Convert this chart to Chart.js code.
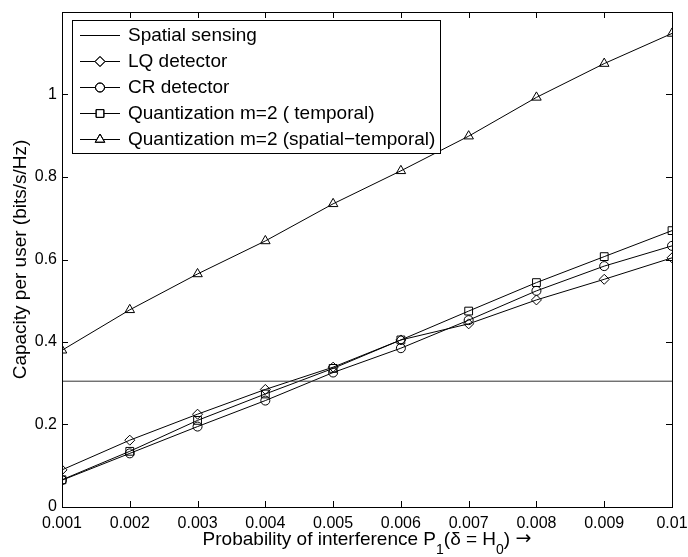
<!DOCTYPE html>
<html>
<head>
<meta charset="utf-8">
<title>Capacity per user</title>
<script src="https://cdn.jsdelivr.net/npm/chart.js@4.4.0/dist/chart.umd.min.js"></script>
<style>
    html, body { margin: 0; padding: 0; background: #fff; }
    #wrap { width: 688px; height: 557px; }
</style>
</head>
<body>
<div id="wrap"><canvas id="myChart" width="688" height="557"></canvas></div>
<script>
// probability of interference on the x axis
let probs = [0.001, 0.002, 0.003, 0.004, 0.005, 0.006, 0.007, 0.008, 0.009, 0.01];

// capacity per user (bits/s/Hz)
let spatialSensing = 0.305;
let lqDetector = [0.09, 0.162, 0.225, 0.285, 0.339, 0.405, 0.444, 0.502, 0.552, 0.604];
let crDetector = [0.065, 0.13, 0.195, 0.258, 0.326, 0.385, 0.453, 0.524, 0.584, 0.633];
let quantTemporal = [0.066, 0.135, 0.21, 0.274, 0.336, 0.405, 0.475, 0.544, 0.607, 0.67];
let quantSpatialTemporal = [0.38, 0.478, 0.565, 0.645, 0.735, 0.815, 0.899, 0.993, 1.075, 1.148];

let yTicks = [0, 0.2, 0.4, 0.6, 0.8, 1];

const FONT = '"Liberation Sans", Arial, Helvetica, sans-serif';

const toPoints = ys => probs.map((p, i) => ({ x: p, y: ys[i] }));

const series = (label, ys, style, radius) => ({
    label: label,
    data: toPoints(ys),
    borderColor: '#000',
    borderWidth: 1,
    backgroundColor: 'rgba(0,0,0,0)',
    pointStyle: style,
    pointRadius: radius,
    pointHoverRadius: radius,
    pointBorderColor: '#000',
    pointBackgroundColor: 'rgba(0,0,0,0)',
    pointBorderWidth: 1,
    tension: 0
});

let data = {
    datasets: [
        {
            label: 'Spatial sensing',
            data: [{ x: probs[0], y: spatialSensing }, { x: probs[probs.length - 1], y: spatialSensing }],
            borderColor: '#333',
            borderWidth: 1,
            pointRadius: 0,
            pointStyle: false
        },
        series('LQ detector', lqDetector, 'rectRot', 5),
        series('CR detector', crDetector, 'circle', 4.5),
        series('Quantization m=2 ( temporal)', quantTemporal, 'rect', 5.5),
        series('Quantization m=2 (spatial\u2212temporal)', quantSpatialTemporal, 'triangle', 5.5)
    ]
};

/* box, inward ticks, tick labels, axis titles and legend, drawn matlab style */
const framePlugin = {
    id: 'frame',
    afterDraw(chart) {
        const ctx = chart.ctx;
        const a = chart.chartArea;
        const xs = chart.scales.x;
        const ys = chart.scales.y;
        const tl = 6;

        ctx.save();
        ctx.strokeStyle = '#000';
        ctx.lineWidth = 1;
        ctx.beginPath();
        probs.forEach(p => {
            const px = Math.round(xs.getPixelForValue(p)) + 0.5;
            ctx.moveTo(px, a.bottom); ctx.lineTo(px, a.bottom - tl);
            ctx.moveTo(px, a.top); ctx.lineTo(px, a.top + tl);
        });
        yTicks.forEach(v => {
            const py = Math.round(ys.getPixelForValue(v)) + 0.5;
            ctx.moveTo(a.left, py); ctx.lineTo(a.left + tl, py);
            ctx.moveTo(a.right, py); ctx.lineTo(a.right - tl, py);
        });
        ctx.stroke();
        ctx.strokeRect(Math.round(a.left) + 0.5, Math.round(a.top) + 0.5,
            Math.round(a.right - a.left), Math.round(a.bottom - a.top));

        // tick labels
        ctx.fillStyle = '#000';
        ctx.font = '16px ' + FONT;
        ctx.textAlign = 'center';
        ctx.textBaseline = 'alphabetic';
        probs.forEach(p => {
            ctx.fillText(String(p), xs.getPixelForValue(p), a.bottom + 21);
        });
        ctx.textAlign = 'right';
        ctx.textBaseline = 'middle';
        yTicks.forEach(v => {
            ctx.fillText(String(v), a.left - 5, ys.getPixelForValue(v));
        });

        // x title with subscripts, arrow from dejavu (bigger glyph)
        const big = '19px ' + FONT;
        const small = '14px ' + FONT;
        const arrow = '19px "DejaVu Sans", sans-serif';
        const parts = [
            ['Probability of interference P', big, 545],
            ['1', small, 554],
            ['(\u03b4 = H', big, 545],
            ['0', small, 554],
            [') ', big, 545],
            ['\u2192', arrow, 544]
        ];
        let total = 0;
        parts.forEach(([t, f]) => {
            ctx.font = f;
            total += ctx.measureText(t).width;
        });
        let x = (a.left + a.right) / 2 - total / 2;
        ctx.textAlign = 'left';
        ctx.textBaseline = 'alphabetic';
        parts.forEach(([t, f, y]) => {
            ctx.font = f;
            ctx.fillText(t, x, y);
            x += ctx.measureText(t).width;
        });

        // y title
        ctx.save();
        ctx.translate(26, (a.top + a.bottom) / 2);
        ctx.rotate(-Math.PI / 2);
        ctx.font = big;
        ctx.textAlign = 'center';
        ctx.textBaseline = 'alphabetic';
        ctx.fillText('Capacity per user (bits/s/Hz)', 0, 0);
        ctx.restore();

        // legend
        const lx = 72, ly = 20, lw = 368, lh = 133;
        ctx.fillStyle = '#fff';
        ctx.fillRect(lx, ly, lw, lh);
        ctx.strokeStyle = '#000';
        ctx.strokeRect(lx + 0.5, ly + 0.5, lw, lh);
        chart.data.datasets.forEach((ds, i) => {
            const ry = 35 + i * 26;
            ctx.strokeStyle = '#000';
            ctx.lineWidth = 1;
            ctx.beginPath();
            ctx.moveTo(80, ry + 0.5);
            ctx.lineTo(120, ry + 0.5);
            ctx.stroke();
            if (ds.pointStyle) {
                ctx.fillStyle = '#fff';
                Chart.helpers.drawPoint(ctx, {
                    pointStyle: ds.pointStyle,
                    radius: ds.pointRadius,
                    rotation: 0,
                    borderWidth: 1
                }, 100, ry + 0.5);
                ctx.stroke();
            }
            ctx.fillStyle = '#000';
            ctx.font = big;
            ctx.textAlign = 'left';
            ctx.textBaseline = 'middle';
            ctx.fillText(ds.label, 128, ry + 1);
        });
        ctx.restore();
    }
};

let config = {
    type: 'line',
    data: data,
    options: {
        responsive: false,
        animation: false,
        layout: { padding: { top: 12, right: 16, left: 0, bottom: 0 } },
        plugins: {
            legend: { display: false },
            tooltip: { enabled: false }
        },
        scales: {
            x: {
                type: 'linear',
                min: 0.001,
                max: 0.01,
                grid: { display: false },
                border: { display: false },
                ticks: { display: false },
                afterBuildTicks: s => { s.ticks = probs.map(v => ({ value: v })); },
                afterFit: s => { s.height = 50; }
            },
            y: {
                min: 0,
                max: 1.2,
                grid: { display: false },
                border: { display: false },
                ticks: { display: false },
                afterBuildTicks: s => { s.ticks = yTicks.map(v => ({ value: v })); },
                afterFit: s => { s.width = 62; }
            }
        }
    },
    plugins: [framePlugin]
};

var myChart = new Chart(document.getElementById('myChart').getContext('2d'), config);
</script>
</body>
</html>
